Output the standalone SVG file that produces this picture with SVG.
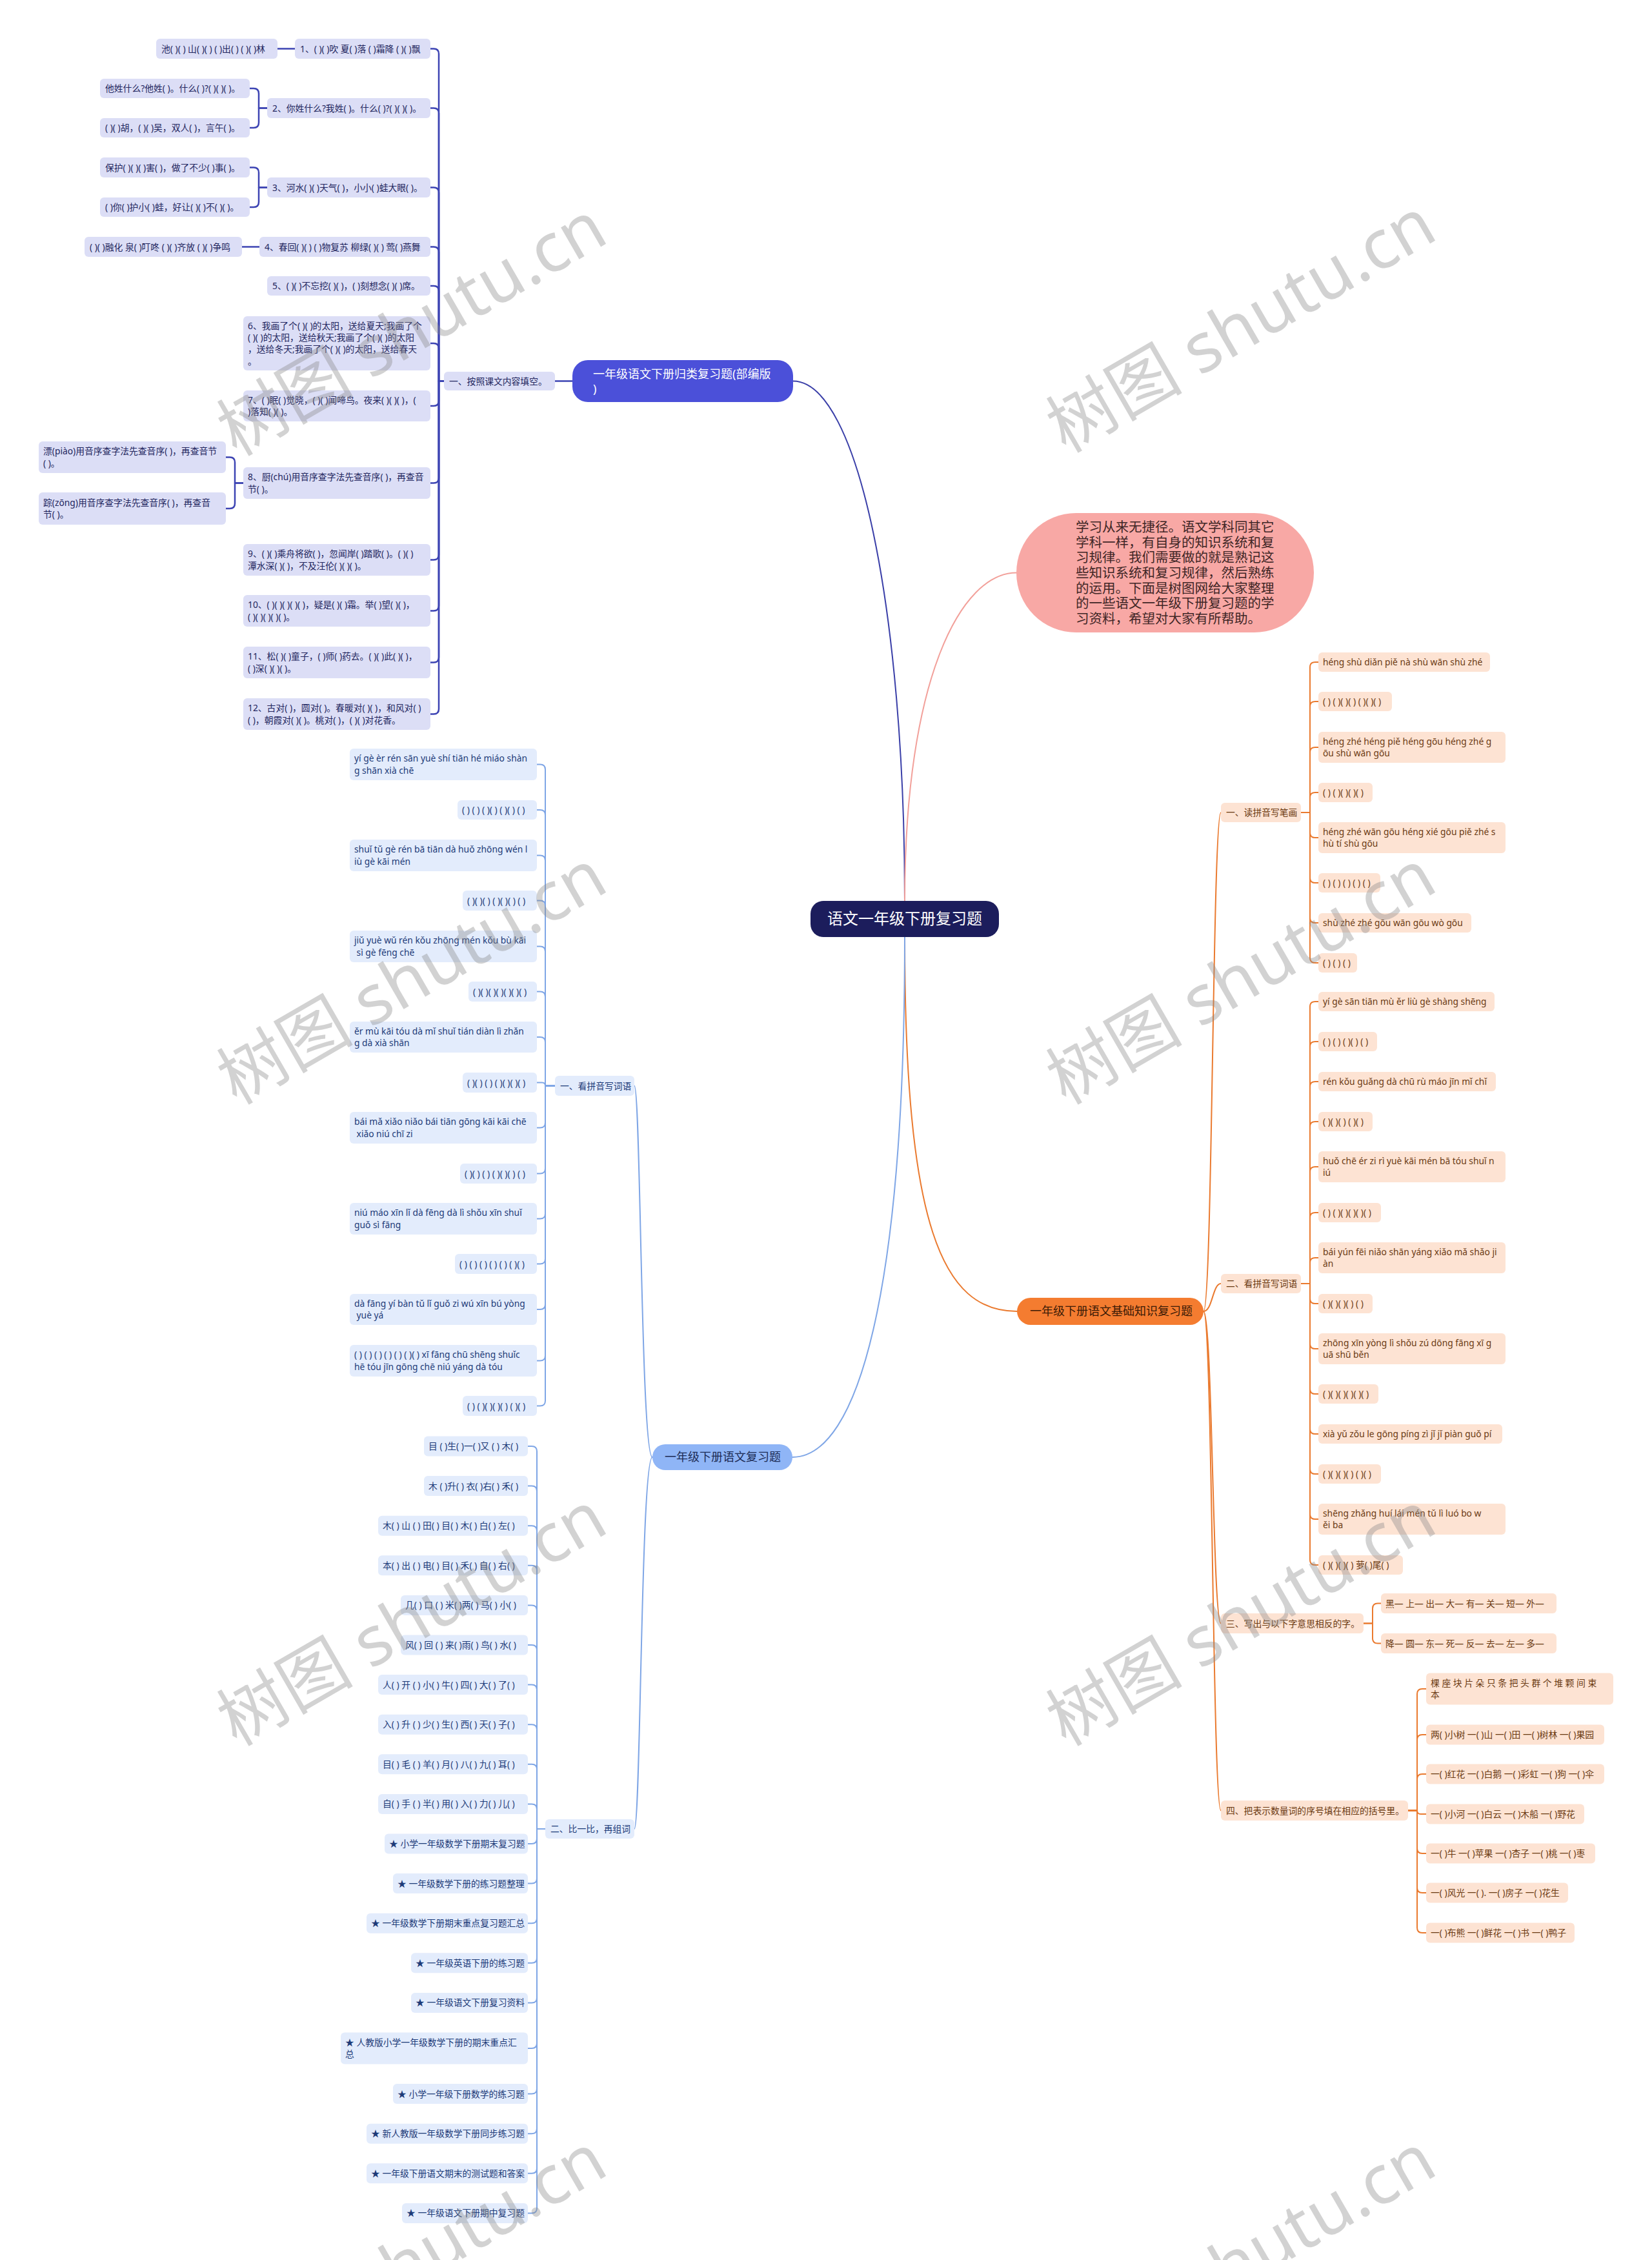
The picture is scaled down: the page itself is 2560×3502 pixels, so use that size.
<svg xmlns="http://www.w3.org/2000/svg" width="2560" height="3502" viewBox="0 0 2560 3502">
<style>
text{font-family:"Noto Sans","Noto Sans CJK SC",sans-serif}
.s{font-size:13.8px}
.bv rect{fill:#dcdef6}
.bv text{fill:#23265e}
.lb rect{fill:#e3ecfc}
.lb text{fill:#1c3a78}
.or rect{fill:#fde3d3}
.or text{fill:#6b3a12}
.c path{fill:none;stroke-linecap:round;stroke-linejoin:round}
.cbv path{stroke:#3d44b3;stroke-width:2.5}
.clb path{stroke:#7fa6e6;stroke-width:2}
.cor path{stroke:#ea7a2f;stroke-width:2}
.wm{font-family:"Liberation Serif","Noto Sans CJK SC",serif;font-size:106px;fill:#888;fill-opacity:.38}
</style>
<rect width="2560" height="3502" fill="#fff"/>
<g id="connectors" class="c">
<path d="M1402,1396C1402,950 1330,590.5 1229,590.5" stroke="#3a3fa8" stroke-width="2"/>
<path d="M1402,1396C1402,1050 1490,887.5 1575,887.5" stroke="#f2a09a" stroke-width="2"/>
<path d="M1402,1452C1402,1900 1460,2032 1576,2032" stroke="#ea7a2f" stroke-width="2"/>
<path d="M1402,1452C1402,2000 1330,2258 1228,2258" stroke="#7fa6e6" stroke-width="2"/>
<g class="cbv">
<path d="M887,590.5H860"/>
<path d="M688,590.5H680V83.5Q680,75.5 672,75.5H667"/>
<path d="M688,590.5H680V175.5Q680,167.5 672,167.5H667"/>
<path d="M688,590.5H680V298.5Q680,290.5 672,290.5H667"/>
<path d="M688,590.5H680V390.5Q680,382.5 672,382.5H667"/>
<path d="M688,590.5H680V451Q680,443 672,443H667"/>
<path d="M688,590.5H680V540Q680,532 672,532H667"/>
<path d="M688,590.5H680V621Q680,629 672,629H667"/>
<path d="M688,590.5H680V740.5Q680,748.5 672,748.5H667"/>
<path d="M688,590.5H680V859.5Q680,867.5 672,867.5H667"/>
<path d="M688,590.5H680V938.5Q680,946.5 672,946.5H667"/>
<path d="M688,590.5H680V1018.5Q680,1026.5 672,1026.5H667"/>
<path d="M688,590.5H680V1098.5Q680,1106.5 672,1106.5H667"/>
<path d="M457,75.5H430"/>
<path d="M414,167.5H401V145Q401,137 393,137H387"/>
<path d="M414,167.5H401V190Q401,198 393,198H387"/>
<path d="M414,290.5H401V267.5Q401,259.5 393,259.5H387"/>
<path d="M414,290.5H401V313Q401,321 393,321H387"/>
<path d="M402,382.5H375"/>
<path d="M377,748.5H364V716.5Q364,708.5 356,708.5H350"/>
<path d="M377,748.5H364V780Q364,788 356,788H350"/>
</g>
<g class="clb">
<path d="M1011,2258C993,2258 993,1682.5 983,1682.5"/>
<path d="M1011,2258C993,2258 993,2834 983,2834"/>
<path d="M860,1682.5H845V1192.5Q845,1184.5 837,1184.5H832"/>
<path d="M860,1682.5H845V1263Q845,1255 837,1255H832"/>
<path d="M860,1682.5H845V1333.5Q845,1325.5 837,1325.5H832"/>
<path d="M860,1682.5H845V1403.5Q845,1395.5 837,1395.5H832"/>
<path d="M860,1682.5H845V1474.5Q845,1466.5 837,1466.5H832"/>
<path d="M860,1682.5H845V1544.5Q845,1536.5 837,1536.5H832"/>
<path d="M860,1682.5H845V1615Q845,1607 837,1607H832"/>
<path d="M860,1682.5H845Q845,1677.5 840,1677.5H832"/>
<path d="M860,1682.5H845V1739.5Q845,1747.5 837,1747.5H832"/>
<path d="M860,1682.5H845V1810.5Q845,1818.5 837,1818.5H832"/>
<path d="M860,1682.5H845V1880.5Q845,1888.5 837,1888.5H832"/>
<path d="M860,1682.5H845V1950.5Q845,1958.5 837,1958.5H832"/>
<path d="M860,1682.5H845V2021Q845,2029 837,2029H832"/>
<path d="M860,1682.5H845V2100.5Q845,2108.5 837,2108.5H832"/>
<path d="M860,1682.5H845V2170.5Q845,2178.5 837,2178.5H832"/>
<path d="M845,2834H832V2249Q832,2241 824,2241H818"/>
<path d="M845,2834H832V2310.6Q832,2302.6 824,2302.6H818"/>
<path d="M845,2834H832V2372.2Q832,2364.2 824,2364.2H818"/>
<path d="M845,2834H832V2433.8Q832,2425.8 824,2425.8H818"/>
<path d="M845,2834H832V2495.4Q832,2487.4 824,2487.4H818"/>
<path d="M845,2834H832V2557Q832,2549 824,2549H818"/>
<path d="M845,2834H832V2618.6Q832,2610.6 824,2610.6H818"/>
<path d="M845,2834H832V2680.2Q832,2672.2 824,2672.2H818"/>
<path d="M845,2834H832V2741.8Q832,2733.8 824,2733.8H818"/>
<path d="M845,2834H832V2803.4Q832,2795.4 824,2795.4H818"/>
<path d="M845,2834H832V2849Q832,2857 824,2857H818"/>
<path d="M845,2834H832V2910.6Q832,2918.6 824,2918.6H818"/>
<path d="M845,2834H832V2972.2Q832,2980.2 824,2980.2H818"/>
<path d="M845,2834H832V3033.8Q832,3041.8 824,3041.8H818"/>
<path d="M845,2834H832V3095.4Q832,3103.4 824,3103.4H818"/>
<path d="M845,2834H832V3166Q832,3174 824,3174H818"/>
<path d="M845,2834H832V3236.6Q832,3244.6 824,3244.6H818"/>
<path d="M845,2834H832V3298.2Q832,3306.2 824,3306.2H818"/>
<path d="M845,2834H832V3359.8Q832,3367.8 824,3367.8H818"/>
<path d="M845,2834H832V3421.4Q832,3429.4 824,3429.4H818"/>
</g>
<g class="cor">
<path d="M1865,2032C1879,2032 1879,1259 1892,1259"/>
<path d="M1865,2032C1879,2032 1879,1989 1892,1989"/>
<path d="M1865,2032C1879,2032 1879,2515.5 1892,2515.5"/>
<path d="M1865,2032C1879,2032 1879,2805.5 1892,2805.5"/>
<path d="M2016,1259H2030V1034Q2030,1026 2038,1026H2043"/>
<path d="M2016,1259H2030V1095Q2030,1087 2038,1087H2043"/>
<path d="M2016,1259H2030V1166Q2030,1158 2038,1158H2043"/>
<path d="M2016,1259H2030V1236Q2030,1228 2038,1228H2043"/>
<path d="M2016,1259H2030V1290Q2030,1298 2038,1298H2043"/>
<path d="M2016,1259H2030V1360Q2030,1368 2038,1368H2043"/>
<path d="M2016,1259H2030V1422Q2030,1430 2038,1430H2043"/>
<path d="M2016,1259H2030V1484Q2030,1492 2038,1492H2043"/>
<path d="M2016,1989H2030V1560Q2030,1552 2038,1552H2043"/>
<path d="M2016,1989H2030V1622Q2030,1614 2038,1614H2043"/>
<path d="M2016,1989H2030V1684Q2030,1676 2038,1676H2043"/>
<path d="M2016,1989H2030V1746Q2030,1738 2038,1738H2043"/>
<path d="M2016,1989H2030V1816Q2030,1808 2038,1808H2043"/>
<path d="M2016,1989H2030V1887Q2030,1879 2038,1879H2043"/>
<path d="M2016,1989H2030V1957Q2030,1949 2038,1949H2043"/>
<path d="M2016,1989H2030V2012Q2030,2020 2038,2020H2043"/>
<path d="M2016,1989H2030V2082Q2030,2090 2038,2090H2043"/>
<path d="M2016,1989H2030V2152Q2030,2160 2038,2160H2043"/>
<path d="M2016,1989H2030V2214Q2030,2222 2038,2222H2043"/>
<path d="M2016,1989H2030V2276Q2030,2284 2038,2284H2043"/>
<path d="M2016,1989H2030V2346Q2030,2354 2038,2354H2043"/>
<path d="M2016,1989H2030V2417Q2030,2425 2038,2425H2043"/>
<path d="M2113,2515.5H2127V2492.5Q2127,2484.5 2135,2484.5H2140"/>
<path d="M2113,2515.5H2127V2538.5Q2127,2546.5 2135,2546.5H2140"/>
<path d="M2182,2805.5H2196V2625Q2196,2617 2204,2617H2210"/>
<path d="M2182,2805.5H2196V2696Q2196,2688 2204,2688H2210"/>
<path d="M2182,2805.5H2196V2757Q2196,2749 2204,2749H2210"/>
<path d="M2182,2805.5H2196Q2196,2811 2201.5,2811H2210"/>
<path d="M2182,2805.5H2196V2864Q2196,2872 2204,2872H2210"/>
<path d="M2182,2805.5H2196V2925Q2196,2933 2204,2933H2210"/>
<path d="M2182,2805.5H2196V2987Q2196,2995 2204,2995H2210"/>
</g>
</g>

<g id="center">
<rect x="1256" y="1396" width="292" height="56" rx="20" fill="#1c1d5c"/>
<text x="1402" y="1432" text-anchor="middle" font-size="24" fill="#fff">语文一年级下册复习题</text>
</g>

<g id="intro">
<rect x="1575" y="795" width="461" height="185" rx="92.5" fill="#f8a8a5"/>
<text font-size="20.5" fill="#3f2626">
<tspan x="1667" y="824">学习从来无捷径。语文学科同其它</tspan>
<tspan x="1667" y="848">学科一样，有自身的知识系统和复</tspan>
<tspan x="1667" y="871">习规律。我们需要做的就是熟记这</tspan>
<tspan x="1667" y="895">些知识系统和复习规律，然后熟练</tspan>
<tspan x="1667" y="919">的运用。下面是树图网给大家整理</tspan>
<tspan x="1667" y="942">的一些语文一年级下册复习题的学</tspan>
<tspan x="1667" y="966">习资料，希望对大家有所帮助。</tspan>
</text>
</g>

<g id="branch-bv-main">
<rect x="887" y="558" width="342" height="65" rx="24" fill="#4b50d9"/>
<text font-size="18" fill="#fff"><tspan x="919" y="586">一年级语文下册归类复习题(部编版</tspan><tspan x="919" y="609">)</tspan></text>
</g>
<g id="bv-l2" class="bv"><rect x="688" y="576" width="172" height="29" rx="6"/><text class="s" x="696" y="595.5">一、按照课文内容填空。</text></g>
<g id="bv-1" class="bv"><rect x="457" y="60" width="210" height="31" rx="6"/><text class="s" x="465" y="80.5">1、( )( )吹 夏( )落 ( )霜降 ( )( )飘</text></g>
<g id="bv-1a" class="bv"><rect x="242" y="60" width="188" height="31" rx="6"/><text class="s" x="250" y="80.5">池( )( ) 山( )( ) ( )出( ) ( )( )林</text></g>
<g id="bv-2" class="bv"><rect x="414" y="152" width="253" height="31" rx="6"/><text class="s" x="422" y="172.5">2、你姓什么?我姓( )。什么( )?( )( )( )。</text></g>
<g id="bv-2a" class="bv"><rect x="155" y="122" width="232" height="30" rx="6"/><text class="s" x="163" y="142">他姓什么?他姓( )。什么( )?( )( )( )。</text></g>
<g id="bv-2b" class="bv"><rect x="155" y="183" width="232" height="30" rx="6"/><text class="s" x="163" y="203">( )( )胡，( )( )吴，双人( )，言午( )。</text></g>
<g id="bv-3" class="bv"><rect x="414" y="275" width="253" height="31" rx="6"/><text class="s" x="422" y="295.5">3、河水( )( )天气( )，小小( )蛙大眼( )。</text></g>
<g id="bv-3a" class="bv"><rect x="155" y="244" width="232" height="31" rx="6"/><text class="s" x="163" y="264.5">保护( )( )( )害( )，做了不少( )事( )。</text></g>
<g id="bv-3b" class="bv"><rect x="155" y="306" width="232" height="30" rx="6"/><text class="s" x="163" y="326">( )你( )护小( )蛙，好让( )( )不( )( )。</text></g>
<g id="bv-4" class="bv"><rect x="402" y="367" width="265" height="31" rx="6"/><text class="s" x="410" y="387.5">4、春回( )( ) ( )物复苏 柳绿( )( ) 莺( )燕舞</text></g>
<g id="bv-4a" class="bv"><rect x="131" y="367" width="244" height="31" rx="6"/><text class="s" x="139" y="387.5">( )( )融化 泉( )叮咚 ( )( )齐放 ( )( )争鸣</text></g>
<g id="bv-5" class="bv"><rect x="414" y="428" width="253" height="30" rx="6"/><text class="s" x="422" y="448">5、( )( )不忘挖( )( )，( )刻想念( )( )席。</text></g>
<g id="bv-6" class="bv"><rect x="377" y="490" width="290" height="84" rx="6"/><text class="s"><tspan x="384" y="509.5">6、我画了个( )( )的太阳，送给夏天;我画了个</tspan><tspan x="384" y="527.8">( )( )的太阳，送给秋天;我画了个( )( )的太阳</tspan><tspan x="384" y="546.2">，送给冬天;我画了个( )( )的太阳，送给春天</tspan><tspan x="384" y="564.5">。</tspan></text></g>
<g id="bv-7" class="bv"><rect x="377" y="605" width="290" height="48" rx="6"/><text class="s"><tspan x="384" y="624.8">7、( )眠( )觉晓，( )( )闻啼鸟。夜来( )( )( )，(</tspan><tspan x="384" y="643.2">)落知( )( )。</tspan></text></g>
<g id="bv-8" class="bv"><rect x="377" y="724" width="290" height="49" rx="6"/><text class="s"><tspan x="384" y="744.3">8、厨(chú)用音序查字法先查音序( )，再查音</tspan><tspan x="384" y="762.8">节( )。</tspan></text></g>
<g id="bv-8a" class="bv"><rect x="60" y="684" width="290" height="49" rx="6"/><text class="s"><tspan x="67" y="704.3">漂(piào)用音序查字法先查音序( )，再查音节</tspan><tspan x="67" y="722.8">( )。</tspan></text></g>
<g id="bv-8b" class="bv"><rect x="60" y="763" width="290" height="50" rx="6"/><text class="s"><tspan x="67" y="783.8">踪(zōng)用音序查字法先查音序( )，再查音</tspan><tspan x="67" y="802.3">节( )。</tspan></text></g>
<g id="bv-9" class="bv"><rect x="377" y="843" width="290" height="49" rx="6"/><text class="s"><tspan x="384" y="863.3">9、( )( )乘舟将欲( )，忽闻岸( )踏歌( )。( )( )</tspan><tspan x="384" y="881.8">潭水深( )( )，不及汪伦( )( )( )。</tspan></text></g>
<g id="bv-10" class="bv"><rect x="377" y="922" width="290" height="49" rx="6"/><text class="s"><tspan x="384" y="942.3">10、( )( )( )( )( )，疑是( )( )霜。举( )望( )( )，</tspan><tspan x="384" y="960.8">( )( )( )( )( )。</tspan></text></g>
<g id="bv-11" class="bv"><rect x="377" y="1002" width="290" height="49" rx="6"/><text class="s"><tspan x="384" y="1022.3">11、松( )( )童子，( )师( )药去。( )( )此( )( )，</tspan><tspan x="384" y="1040.8">( )深( )( )( )。</tspan></text></g>
<g id="bv-12" class="bv"><rect x="377" y="1082" width="290" height="49" rx="6"/><text class="s"><tspan x="384" y="1102.3">12、古对( )，圆对( )。春暖对( )( )，和风对( )</tspan><tspan x="384" y="1120.8">( )，朝霞对( )( )。桃对( )，( )( )对花香。</tspan></text></g>

<g id="branch-lb-main">
<rect x="1011" y="2238" width="217" height="40" rx="20" fill="#8fb5f6"/>
<text x="1030" y="2264" font-size="18" fill="#1d2c55">一年级下册语文复习题</text>
</g>
<g id="lb-l2a" class="lb"><rect x="860" y="1667" width="123" height="31" rx="6"/><text class="s" x="868" y="1687.5">一、看拼音写词语</text></g>
<g id="lb-a1" class="lb"><rect x="542" y="1160" width="290" height="49" rx="6"/><text class="s"><tspan x="549" y="1180.3">yí gè èr rén sān yuè shí tiān hé miáo shàn</tspan><tspan x="549" y="1198.8">g shān xià chē</tspan></text></g>
<g id="lb-a2" class="lb"><rect x="709" y="1240" width="123" height="30" rx="6"/><text class="s" x="716" y="1260">( ) ( ) ( )( ) ( )( ) ( )</text></g>
<g id="lb-a3" class="lb"><rect x="542" y="1301" width="290" height="49" rx="6"/><text class="s"><tspan x="549" y="1321.3">shuǐ tǔ gè rén bā tiān dà huǒ zhōng wén l</tspan><tspan x="549" y="1339.8">iù gè kāi mén</tspan></text></g>
<g id="lb-a4" class="lb"><rect x="717" y="1380" width="115" height="31" rx="6"/><text class="s" x="724" y="1400.5">( )( )( ) ( )( )( ) ( )</text></g>
<g id="lb-a5" class="lb"><rect x="542" y="1442" width="290" height="49" rx="6"/><text class="s"><tspan x="549" y="1462.3">jiǔ yuè wǔ rén kǒu zhōng mén kǒu bù kāi</tspan><tspan x="549" y="1480.8"> sì gè fēng chē</tspan></text></g>
<g id="lb-a6" class="lb"><rect x="726" y="1521" width="106" height="31" rx="6"/><text class="s" x="733" y="1541.5">( )( )( )( )( )( )( )</text></g>
<g id="lb-a7" class="lb"><rect x="542" y="1583" width="290" height="48" rx="6"/><text class="s"><tspan x="549" y="1602.8">ěr mù kāi tóu dà mǐ shuǐ tián diàn lì zhǎn</tspan><tspan x="549" y="1621.3">g dà xià shān</tspan></text></g>
<g id="lb-a8" class="lb"><rect x="717" y="1662" width="115" height="31" rx="6"/><text class="s" x="724" y="1682.5">( )( ) ( ) ( )( )( )( )</text></g>
<g id="lb-a9" class="lb"><rect x="542" y="1723" width="290" height="49" rx="6"/><text class="s"><tspan x="549" y="1743.3">bái mǎ xiǎo niǎo bái tiān gōng kāi kāi chē</tspan><tspan x="549" y="1761.8"> xiǎo niú chī zi</tspan></text></g>
<g id="lb-a10" class="lb"><rect x="713" y="1803" width="119" height="31" rx="6"/><text class="s" x="720" y="1823.5">( )( ) ( ) ( )( )( ) ( )</text></g>
<g id="lb-a11" class="lb"><rect x="542" y="1864" width="290" height="49" rx="6"/><text class="s"><tspan x="549" y="1884.3">niú máo xīn lǐ dà fēng dà lì shǒu xīn shuǐ</tspan><tspan x="549" y="1902.8">guǒ sì fāng</tspan></text></g>
<g id="lb-a12" class="lb"><rect x="705" y="1943" width="127" height="31" rx="6"/><text class="s" x="712" y="1963.5">( ) ( ) ( ) ( ) ( ) ( )( )</text></g>
<g id="lb-a13" class="lb"><rect x="542" y="2005" width="290" height="48" rx="6"/><text class="s"><tspan x="549" y="2024.8">dà fāng yí bàn tǔ lǐ guǒ zi wú xīn bú yòng</tspan><tspan x="549" y="2043.3"> yuè yá</tspan></text></g>
<g id="lb-a14" class="lb"><rect x="542" y="2084" width="290" height="49" rx="6"/><text class="s"><tspan x="549" y="2104.3">( ) ( ) ( ) ( ) ( ) ( )( ) xī fāng chū shēng shuǐc</tspan><tspan x="549" y="2122.8">hē tóu jīn gōng chē niú yáng dà tóu</tspan></text></g>
<g id="lb-a15" class="lb"><rect x="717" y="2163" width="115" height="31" rx="6"/><text class="s" x="724" y="2183.5">( ) ( )( )( )( ) ( )( )</text></g>

<g id="lb-l2b" class="lb"><rect x="845" y="2819" width="138" height="30" rx="6"/><text class="s" x="853" y="2839">二、比一比，再组词</text></g>
<g id="lb-b1" class="lb"><rect x="657" y="2225.5" width="161" height="31" rx="6"/><text class="s" x="664" y="2246">目 ( )生( )一( )又 ( ) 木( )</text></g>
<g id="lb-b2" class="lb"><rect x="657" y="2287.1" width="161" height="31" rx="6"/><text class="s" x="664" y="2307.6">木 ( )升( ) 衣( )右( ) 禾( )</text></g>
<g id="lb-b3" class="lb"><rect x="586" y="2348.7" width="232" height="31" rx="6"/><text class="s" x="593" y="2369.2">木( ) 山 ( ) 田( ) 目( ) 木( ) 白( ) 左( )</text></g>
<g id="lb-b4" class="lb"><rect x="586" y="2410.3" width="232" height="31" rx="6"/><text class="s" x="593" y="2430.8">本( ) 出 ( ) 电( ) 目( ) 禾( ) 自( ) 右( )</text></g>
<g id="lb-b5" class="lb"><rect x="621" y="2471.9" width="197" height="31" rx="6"/><text class="s" x="628" y="2492.4">几( ) 口 ( ) 米( )两( ) 马( ) 小( )</text></g>
<g id="lb-b6" class="lb"><rect x="621" y="2533.5" width="197" height="31" rx="6"/><text class="s" x="628" y="2554">风( ) 回 ( ) 来( )雨( ) 鸟( ) 水( )</text></g>
<g id="lb-b7" class="lb"><rect x="586" y="2595.1" width="232" height="31" rx="6"/><text class="s" x="593" y="2615.6">人( ) 开 ( ) 小( ) 牛( ) 四( ) 大( ) 了( )</text></g>
<g id="lb-b8" class="lb"><rect x="586" y="2656.7" width="232" height="31" rx="6"/><text class="s" x="593" y="2677.2">入( ) 升 ( ) 少( ) 生( ) 西( ) 天( ) 子( )</text></g>
<g id="lb-b9" class="lb"><rect x="586" y="2718.3" width="232" height="31" rx="6"/><text class="s" x="593" y="2738.8">目( ) 毛 ( ) 羊( ) 月( ) 八( ) 九( ) 耳( )</text></g>
<g id="lb-b10" class="lb"><rect x="586" y="2779.9" width="232" height="31" rx="6"/><text class="s" x="593" y="2800.4">自( ) 手 ( ) 半( ) 用( ) 入( ) 力( ) 儿( )</text></g>
<g id="lb-b11" class="lb"><rect x="596" y="2841.5" width="222" height="31" rx="6"/><text class="s" x="603" y="2862">★ 小学一年级数学下册期末复习题</text></g>
<g id="lb-b12" class="lb"><rect x="609" y="2903.1" width="209" height="31" rx="6"/><text class="s" x="616" y="2923.6">★ 一年级数学下册的练习题整理</text></g>
<g id="lb-b13" class="lb"><rect x="568" y="2964.7" width="250" height="31" rx="6"/><text class="s" x="575" y="2985.2">★ 一年级数学下册期末重点复习题汇总</text></g>
<g id="lb-b14" class="lb"><rect x="637" y="3026.3" width="181" height="31" rx="6"/><text class="s" x="644" y="3046.8">★ 一年级英语下册的练习题</text></g>
<g id="lb-b15" class="lb"><rect x="637" y="3087.9" width="181" height="31" rx="6"/><text class="s" x="644" y="3108.4">★ 一年级语文下册复习资料</text></g>
<g id="lb-b16" class="lb"><rect x="528" y="3149.5" width="290" height="49" rx="6"/><text class="s"><tspan x="535" y="3169.8">★ 人教版小学一年级数学下册的期末重点汇</tspan><tspan x="535" y="3188.3">总</tspan></text></g>
<g id="lb-b17" class="lb"><rect x="609" y="3229.1" width="209" height="31" rx="6"/><text class="s" x="616" y="3249.6">★ 小学一年级下册数学的练习题</text></g>
<g id="lb-b18" class="lb"><rect x="568" y="3290.7" width="250" height="31" rx="6"/><text class="s" x="575" y="3311.2">★ 新人教版一年级数学下册同步练习题</text></g>
<g id="lb-b19" class="lb"><rect x="568" y="3352.3" width="250" height="31" rx="6"/><text class="s" x="575" y="3372.8">★ 一年级下册语文期末的测试题和答案</text></g>
<g id="lb-b20" class="lb"><rect x="623" y="3413.9" width="195" height="31" rx="6"/><text class="s" x="630" y="3434.4">★ 一年级语文下册期中复习题</text></g>

<g id="branch-or-main">
<rect x="1576" y="2011" width="289" height="42" rx="21" fill="#f47c30"/>
<text x="1596" y="2038" font-size="18" fill="#3a1a06">一年级下册语文基础知识复习题</text>
</g>
<g id="or-l2a" class="or"><rect x="1892" y="1244" width="124" height="30" rx="6"/><text class="s" x="1900" y="1264">一、读拼音写笔画</text></g>
<g id="or-a1" class="or"><rect x="2043" y="1011" width="266" height="30" rx="6"/><text class="s" x="2050" y="1031">héng shù diǎn piě nà shù wān shù zhé</text></g>
<g id="or-a2" class="or"><rect x="2043" y="1072" width="114" height="30" rx="6"/><text class="s" x="2050" y="1092">( ) ( )( )( ) ( )( )( )</text></g>
<g id="or-a3" class="or"><rect x="2043" y="1134" width="290" height="48" rx="6"/><text class="s"><tspan x="2050" y="1153.8">héng zhé héng piě héng gōu héng zhé g</tspan><tspan x="2050" y="1172.3">ōu shù wān gōu</tspan></text></g>
<g id="or-a4" class="or"><rect x="2043" y="1213" width="84" height="30" rx="6"/><text class="s" x="2050" y="1233">( ) ( )( )( )( )</text></g>
<g id="or-a5" class="or"><rect x="2043" y="1274" width="290" height="48" rx="6"/><text class="s"><tspan x="2050" y="1293.8">héng zhé wān gōu héng xié gōu piě zhé s</tspan><tspan x="2050" y="1312.3">hù tí shù gōu</tspan></text></g>
<g id="or-a6" class="or"><rect x="2043" y="1353" width="96" height="30" rx="6"/><text class="s" x="2050" y="1373">( ) ( ) ( ) ( ) ( )</text></g>
<g id="or-a7" class="or"><rect x="2043" y="1415" width="237" height="30" rx="6"/><text class="s" x="2050" y="1435">shù zhé zhé gōu wān gōu wò gōu</text></g>
<g id="or-a8" class="or"><rect x="2043" y="1477" width="60" height="30" rx="6"/><text class="s" x="2050" y="1497">( ) ( ) ( )</text></g>

<g id="or-l2b" class="or"><rect x="1892" y="1974" width="124" height="30" rx="6"/><text class="s" x="1900" y="1994">二、看拼音写词语</text></g>
<g id="or-b1" class="or"><rect x="2043" y="1537" width="273" height="30" rx="6"/><text class="s" x="2050" y="1557">yí gè sān tiān mù ěr liù gè shàng shēng</text></g>
<g id="or-b2" class="or"><rect x="2043" y="1599" width="91" height="30" rx="6"/><text class="s" x="2050" y="1619">( ) ( ) ( )( ) ( )</text></g>
<g id="or-b3" class="or"><rect x="2043" y="1661" width="275" height="30" rx="6"/><text class="s" x="2050" y="1681">rén kǒu guǎng dà chū rù máo jīn mǐ chǐ</text></g>
<g id="or-b4" class="or"><rect x="2043" y="1723" width="84" height="30" rx="6"/><text class="s" x="2050" y="1743">( )( )( ) ( )( )</text></g>
<g id="or-b5" class="or"><rect x="2043" y="1784" width="290" height="48" rx="6"/><text class="s"><tspan x="2050" y="1803.8">huǒ chē ér zi rì yuè kāi mén bā tóu shuǐ n</tspan><tspan x="2050" y="1822.3">iú</tspan></text></g>
<g id="or-b6" class="or"><rect x="2043" y="1864" width="97" height="30" rx="6"/><text class="s" x="2050" y="1884">( ) ( )( )( )( )( )</text></g>
<g id="or-b7" class="or"><rect x="2043" y="1925" width="290" height="48" rx="6"/><text class="s"><tspan x="2050" y="1944.8">bái yún fēi niǎo shān yáng xiǎo mǎ shǎo ji</tspan><tspan x="2050" y="1963.3">àn</tspan></text></g>
<g id="or-b8" class="or"><rect x="2043" y="2005" width="84" height="30" rx="6"/><text class="s" x="2050" y="2025">( )( )( )( ) ( )</text></g>
<g id="or-b9" class="or"><rect x="2043" y="2066" width="290" height="48" rx="6"/><text class="s"><tspan x="2050" y="2085.8">zhōng xīn yòng lì shǒu zú dōng fāng xī g</tspan><tspan x="2050" y="2104.3">uā shū běn</tspan></text></g>
<g id="or-b10" class="or"><rect x="2043" y="2145" width="93" height="30" rx="6"/><text class="s" x="2050" y="2165">( )( )( )( )( )( )</text></g>
<g id="or-b11" class="or"><rect x="2043" y="2207" width="285" height="30" rx="6"/><text class="s" x="2050" y="2227">xià yǔ zǒu le gōng píng zì jǐ jǐ piàn guǒ pí</text></g>
<g id="or-b12" class="or"><rect x="2043" y="2269" width="97" height="30" rx="6"/><text class="s" x="2050" y="2289">( )( )( )( ) ( )( )</text></g>
<g id="or-b13" class="or"><rect x="2043" y="2330" width="290" height="48" rx="6"/><text class="s"><tspan x="2050" y="2349.8">shēng zhǎng huí lái mén tǔ lì luó bo w</tspan><tspan x="2050" y="2368.3">ěi ba</tspan></text></g>
<g id="or-b14" class="or"><rect x="2043" y="2410" width="131" height="30" rx="6"/><text class="s" x="2050" y="2430">( )( )( )( ) 萝( )尾( )</text></g>

<g id="or-l2c" class="or"><rect x="1892" y="2500" width="221" height="31" rx="6"/><text class="s" x="1900" y="2520.5">三、写出与以下字意思相反的字。</text></g>
<g id="or-c1" class="or"><rect x="2140" y="2469" width="272" height="31" rx="6"/><text class="s" x="2147" y="2489.5">黑— 上— 出— 大— 有— 关— 短— 外—</text></g>
<g id="or-c2" class="or"><rect x="2140" y="2531" width="272" height="31" rx="6"/><text class="s" x="2147" y="2551.5">降— 圆— 东— 死— 反— 去— 左— 多—</text></g>

<g id="or-l2d" class="or"><rect x="1892" y="2790" width="290" height="31" rx="6"/><text class="s" x="1900" y="2810.5">四、把表示数量词的序号填在相应的括号里。</text></g>
<g id="or-d1" class="or"><rect x="2210" y="2592.5" width="290" height="49" rx="6"/><text class="s"><tspan x="2217" y="2612.8">棵 座 块 片 朵 只 条 把 头 群 个 堆 颗 间 束</tspan><tspan x="2217" y="2631.3">本</tspan></text></g>
<g id="or-d2" class="or"><rect x="2210" y="2672.5" width="276" height="31" rx="6"/><text class="s" x="2217" y="2693">两( )小树 一( )山 一( )田 一( )树林 一( )果园</text></g>
<g id="or-d3" class="or"><rect x="2210" y="2733.5" width="276" height="31" rx="6"/><text class="s" x="2217" y="2754">一( )红花 一( )白鹅 一( )彩虹 一( )狗 一( )伞</text></g>
<g id="or-d4" class="or"><rect x="2210" y="2795.5" width="245" height="31" rx="6"/><text class="s" x="2217" y="2816">一( )小河 一( )白云 一( )木船 一( )野花</text></g>
<g id="or-d5" class="or"><rect x="2210" y="2856.5" width="262" height="31" rx="6"/><text class="s" x="2217" y="2877">一( )牛 一( )苹果 一( )杏子 一( )桃 一( )枣</text></g>
<g id="or-d6" class="or"><rect x="2210" y="2917.5" width="220" height="31" rx="6"/><text class="s" x="2217" y="2938">一( )风光 一( ). 一( )房子 一( )花生</text></g>
<g id="or-d7" class="or"><rect x="2210" y="2979.5" width="230" height="31" rx="6"/><text class="s" x="2217" y="3000">一( )布熊 一( )鲜花 一( )书 一( )鸭子</text></g>

<g id="watermark" class="wm" text-anchor="middle">
<text x="641" y="545" transform="rotate(-30 641 514)">树图 shutu.cn</text>
<text x="1926" y="540" transform="rotate(-30 1926 509)">树图 shutu.cn</text>
<text x="641" y="1550" transform="rotate(-30 641 1519)">树图 shutu.cn</text>
<text x="1926" y="1550" transform="rotate(-30 1926 1519)">树图 shutu.cn</text>
<text x="641" y="2544" transform="rotate(-30 641 2513)">树图 shutu.cn</text>
<text x="1926" y="2544" transform="rotate(-30 1926 2513)">树图 shutu.cn</text>
<text x="641" y="3539" transform="rotate(-30 641 3508)">树图 shutu.cn</text>
<text x="1926" y="3539" transform="rotate(-30 1926 3508)">树图 shutu.cn</text>
</g>
</svg>
